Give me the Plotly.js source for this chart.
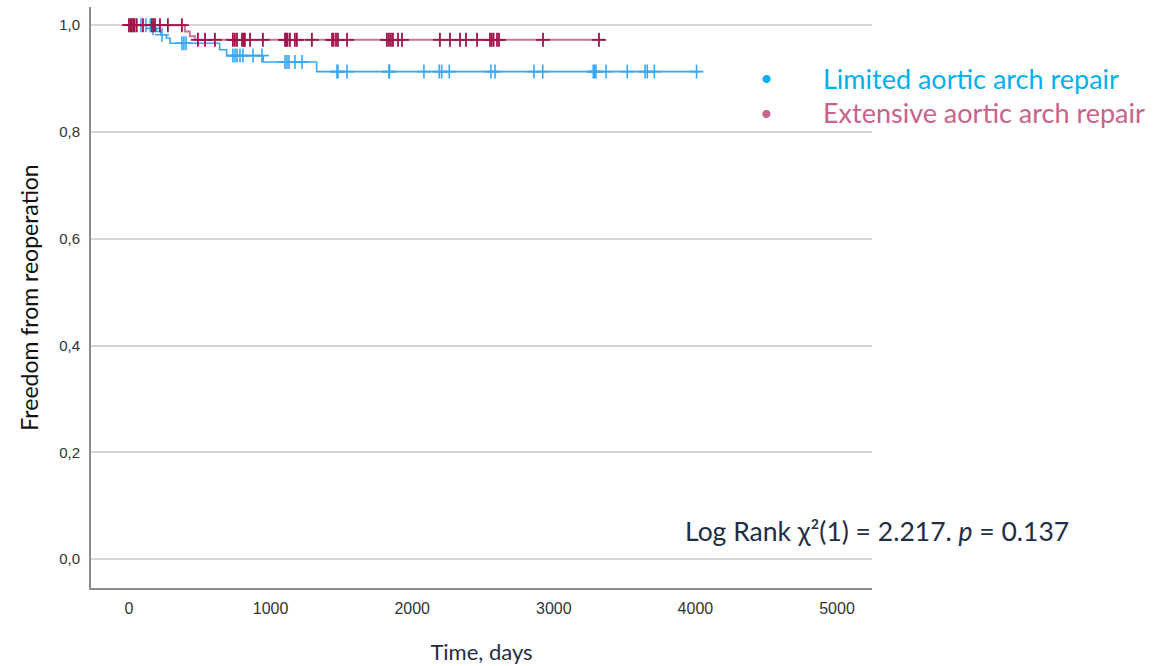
<!DOCTYPE html>
<html>
<head>
<meta charset="utf-8">
<script src="https://cdn.plot.ly/plotly-3.0.1.min.js"></script>
<style>html,body{margin:0;padding:0;background:#fff;}#chart{width:1171px;height:666px;}</style>
</head>
<body>
<div id="chart"></div>
<script>
// Kaplan-Meier step points (time in days, survival)
const limitedTimes = [0, 160, 195, 225, 265, 290, 640, 690, 948, 1325, 4032];
const limitedSurv  = [1.0, 0.994, 0.988, 0.982, 0.976, 0.966, 0.954, 0.943, 0.931, 0.913, 0.913];
const extensiveTimes = [0, 395, 430, 466, 3361];
const extensiveSurv  = [1.0, 0.988, 0.979, 0.9725, 0.9725];

// Censored observations (days)
const limitedCensor = [85, 120, 150, 170, 233, 374, 388, 403, 734, 749, 763, 784, 805, 876, 939,
  1102, 1116, 1130, 1172, 1222, 1469, 1476, 1540, 1836, 1840, 2083, 2191, 2208, 2262, 2556, 2585,
  2860, 2922, 3279, 3287, 3298, 3369, 3519, 3644, 3660, 3710, 4008];
const extensiveCensor = [0, 10, 20, 30, 40, 55, 99, 162, 173, 184, 219, 275, 374, 487, 537, 607,
  734, 748, 763, 798, 808, 819, 855, 946, 1102, 1110, 1120, 1137, 1172, 1186, 1292, 1434, 1445,
  1462, 1476, 1540, 1822, 1836, 1850, 1864, 1900, 1928, 2196, 2267, 2338, 2380, 2458, 2549,
  2562, 2575, 2599, 2613, 2924, 3319];

const xTickVals = [0, 1000, 2000, 3000, 4000, 5000];
const xTickText = ['0', '1000', '2000', '3000', '4000', '5000'];
const yTickVals = [0, 0.2, 0.4, 0.6, 0.8, 1.0];
const yTickText = ['0,0', '0,2', '0,4', '0,6', '0,8', '1,0'];

const groupNames = ['Limited aortic arch repair', 'Extensive aortic arch repair'];
const statText = 'Log Rank χ²(1) = 2.217. <i>p</i> = 0.137';

function survAt(times, surv, t) {
  let s = surv[0];
  for (let i = 0; i < times.length; i++) { if (times[i] <= t) s = surv[i]; }
  return s;
}

const blueLine = 'rgb(56,168,245)';
const redLine = 'rgba(165,25,80,0.6)';
const redMark = 'rgb(160,20,75)';

const traces = [
  {x: limitedTimes, y: limitedSurv, mode: 'lines', line: {shape: 'hv', color: blueLine, width: 1.6},
   name: groupNames[0], showlegend: false, hoverinfo: 'skip'},
  {x: extensiveTimes, y: extensiveSurv, mode: 'lines', line: {shape: 'hv', color: redLine, width: 2},
   name: groupNames[1], showlegend: false, hoverinfo: 'skip'},
  {x: limitedCensor, y: limitedCensor.map(t => survAt(limitedTimes, limitedSurv, t)), mode: 'markers',
   marker: {symbol: 'cross-thin-open', size: 10, line: {color: blueLine, width: 1.6}, color: blueLine},
   showlegend: false, hoverinfo: 'skip'},
  {x: extensiveCensor, y: extensiveCensor.map(t => survAt(extensiveTimes, extensiveSurv, t)), mode: 'markers',
   marker: {symbol: 'cross-thin-open', size: 10, line: {color: redMark, width: 1.8}, color: redMark},
   showlegend: false, hoverinfo: 'skip'}
];

const plotL = 91, plotR = 872, plotT = 7, plotB = 588;
const W = 1171, H = 666;

// figure-pixel positions converted to plot-area fractions
function px2x(px) { return (px - plotL) / (plotR - plotL); }
function py2y(py) { return (plotB - py) / (plotB - plotT); }

const tickFontFamily = 'Liberation Sans Narrow, Arial Narrow, Liberation Sans, Arial';

const layout = {
  width: W, height: H,
  margin: {l: plotL, r: W - plotR, t: plotT, b: H - plotB, pad: 0},
  paper_bgcolor: '#fff', plot_bgcolor: '#fff',
  showlegend: false,
  xaxis: {
    range: [-268, 5247], tickvals: xTickVals, ticktext: xTickText,
    showgrid: false, zeroline: false, showline: true, linecolor: '#8c8c8c', linewidth: 2,
    ticks: '', ticklabelstandoff: 5,
    tickfont: {family: tickFontFamily, size: 16, color: '#333'},
    title: {text: 'Time, days', font: {family: 'Lato', size: 22, color: '#1f2d45'}, standoff: 28}
  },
  yaxis: {
    range: [-0.054, 1.034], tickvals: yTickVals, ticktext: yTickText,
    showgrid: true, gridcolor: '#d6d6d6', gridwidth: 2, zeroline: false,
    showline: true, linecolor: '#8c8c8c', linewidth: 2,
    ticks: '', ticklabelstandoff: 6,
    tickfont: {family: tickFontFamily, size: 15, color: '#333'},
    title: {text: 'Freedom from reoperation', font: {family: 'Lato', size: 23, color: '#111'}, standoff: 14}
  },
  annotations: [
    {x: px2x(766), y: py2y(77), xanchor: 'center', yanchor: 'middle',
     text: '•', showarrow: false, font: {family: 'Lato', size: 22, color: '#00b0f0'}},
    {x: px2x(766), y: py2y(112), xanchor: 'center', yanchor: 'middle',
     text: '•', showarrow: false, font: {family: 'Lato', size: 22, color: '#c8648c'}},
    {x: px2x(821), y: py2y(78), xanchor: 'left', yanchor: 'middle',
     text: groupNames[0], showarrow: false, font: {family: 'Lato', size: 27, color: '#00b0f0'}},
    {x: px2x(821), y: py2y(112), xanchor: 'left', yanchor: 'middle',
     text: groupNames[1], showarrow: false, font: {family: 'Lato', size: 27, color: '#c8648c'}},
    {x: px2x(683), y: py2y(531), xanchor: 'left', yanchor: 'middle',
     text: statText, showarrow: false, font: {family: 'Lato', size: 26.5, color: '#1f2d45'}}
  ]
};
layout.annotations.forEach(a => { a.xref = 'paper'; a.yref = 'paper'; });

Plotly.newPlot('chart', traces, layout, {displayModeBar: false, staticPlot: true});
</script>
</body>
</html>
